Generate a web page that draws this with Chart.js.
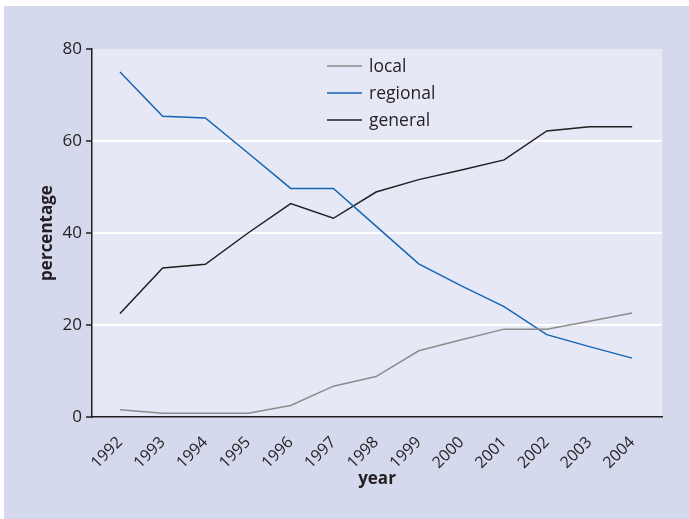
<!DOCTYPE html>
<html>
<head>
<meta charset="utf-8">
<script src="https://cdn.jsdelivr.net/npm/chart.js@4"></script>
<style>
  html, body { margin: 0; padding: 0; background: #fff; }
  #myChart { display: block; }
</style>
</head>
<body>
<canvas id="myChart" width="689" height="519"></canvas>
<script>
// values
const years = [1992, 1993, 1994, 1995, 1996, 1997, 1998, 1999, 2000, 2001, 2002, 2003, 2004];
const local = [1.6, 0.8, 0.8, 0.8, 2.5, 6.7, 8.8, 14.4, 16.8, 19.1, 19.1, 20.8, 22.6];
const regional = [75.0, 65.4, 65.0, 57.4, 49.7, 49.7, 41.5, 33.3, 28.5, 24.0, 17.9, 15.3, 12.8];
const general = [22.5, 32.4, 33.2, 40.0, 46.4, 43.2, 48.9, 51.6, 53.7, 55.9, 62.2, 63.1, 63.1];
const yTicks = [0, 20, 40, 60, 80];

const INK = '#231f20';
Chart.defaults.font.family = "'Open Sans', sans-serif";
Chart.defaults.color = INK;

function toPoints(values) {
  return values.map((v, i) => ({ x: years[i], y: v }));
}

// lavender frame and plot panel
const backdrop = {
  id: 'backdrop',
  beforeDraw(chart) {
    const c = chart.ctx, a = chart.chartArea;
    c.save();
    c.fillStyle = '#ffffff';
    c.fillRect(0, 0, chart.width, chart.height);
    c.fillStyle = '#d5d9ed';
    c.fillRect(4, 6, chart.width - 4, chart.height - 6);
    c.fillStyle = '#e6e8f5';
    c.fillRect(a.left, a.top, a.right - a.left, a.bottom - a.top);
    c.restore();
  }
};

// legend sits inside the plot, near the top middle
const insideLegend = {
  id: 'insideLegend',
  afterDraw(chart) {
    const c = chart.ctx;
    c.save();
    c.font = "17.5px 'Open Sans', sans-serif";
    c.textBaseline = 'middle';
    chart.data.datasets.forEach((ds, i) => {
      const y = 66 + i * 27;
      c.strokeStyle = ds.borderColor;
      c.lineWidth = 1.5;
      c.beginPath();
      c.moveTo(327, y);
      c.lineTo(362, y);
      c.stroke();
      c.fillStyle = INK;
      c.fillText(ds.label, 369, y + 1);
    });
    c.restore();
  }
};

new Chart(document.getElementById('myChart'), {
  type: 'line',
  data: {
    datasets: [
      { label: 'local', data: toPoints(local), borderColor: '#8c8c8c' },
      { label: 'regional', data: toPoints(regional), borderColor: '#1565b5' },
      { label: 'general', data: toPoints(general), borderColor: INK }
    ]
  },
  options: {
    responsive: false,
    animation: false,
    layout: { padding: { left: 0, top: 49, right: 27, bottom: 0 } },
    elements: {
      line: { borderWidth: 1.5, tension: 0, fill: false },
      point: { radius: 0 }
    },
    plugins: {
      legend: { display: false },
      tooltip: { enabled: false }
    },
    scales: {
      x: {
        type: 'linear',
        min: years[0] - 0.656,
        max: years[years.length - 1] + 0.7,
        afterBuildTicks(scale) {
          scale.ticks = years.map(v => ({ value: v }));
        },
        afterFit(scale) { scale.height = 102; },
        grid: { display: false },
        border: { display: true, color: INK, width: 1.5 },
        ticks: {
          minRotation: 45,
          maxRotation: 45,
          padding: 8,
          font: { size: 16 },
          callback: (v) => String(v)
        },
        title: {
          display: true,
          text: 'year',
          font: { size: 17, weight: 'bold' },
          padding: { top: 0, bottom: 30 }
        }
      },
      y: {
        min: 0,
        max: 80,
        afterBuildTicks(scale) {
          scale.ticks = yTicks.map(v => ({ value: v }));
        },
        afterFit(scale) { scale.width = 92; },
        grid: {
          color: (ctx) => (ctx.tick && (ctx.tick.value === 0 || ctx.tick.value === 80)) ? 'rgba(0,0,0,0)' : '#ffffff',
          lineWidth: 2,
          tickColor: INK,
          tickLength: 6,
          tickWidth: 1.5
        },
        border: { display: true, color: INK, width: 1.5 },
        ticks: { padding: 4, font: { size: 17 } },
        title: {
          display: true,
          text: 'percentage',
          font: { size: 17, weight: 'bold' },
          padding: { top: 37, bottom: 0 }
        }
      }
    }
  },
  plugins: [backdrop, insideLegend]
});
</script>
</body>
</html>
